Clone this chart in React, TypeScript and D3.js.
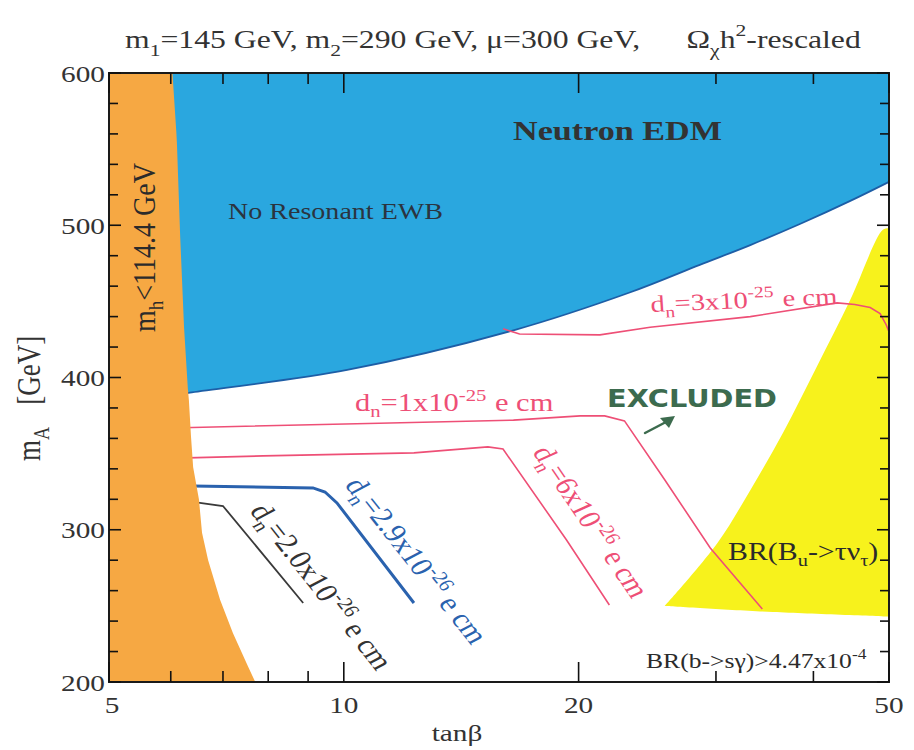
import React from 'react';
import * as d3 from 'd3';

// ---------- axis ticks ----------
const tanBetaMajor = [5, 10, 20, 50];
const tanBetaMinor = [6, 7, 8, 9, 30, 40];
const mAMajor = [200, 300, 400, 500, 600];
const mAMinor = [220, 240, 260, 280, 320, 340, 360, 380, 420, 440, 460, 480, 520, 540, 560, 580];

// ---------- regions: [tanBeta, mA] ----------
// m_h < 114.4 GeV boundary (orange region lies to the left)
const higgsBound: [number, number][] = [
  [6.03, 600], [6.10, 561], [6.11, 554], [6.17, 492], [6.24, 433], [6.31, 393], [6.33, 385],
  [6.37, 361], [6.41, 341], [6.52, 320], [6.58, 298], [6.70, 280], [6.94, 254], [7.21, 232],
  [7.54, 210], [7.70, 200],
];
// Neutron EDM / no resonant EWB boundary (blue region lies above)
const edmBound: [number, number][] = [
  [6.2, 389], [6.35, 390], [10.1, 405], [16.5, 431], [23.3, 456], [28.6, 474], [33.2, 487],
  [38.5, 501], [44.6, 516], [50, 528.5],
];
// BR(B_u -> tau nu) excluded region
const btaunuLeft: [number, number][] = [
  [50, 498], [49.1, 497], [44.6, 451], [40.4, 407], [36.6, 364], [33.2, 326], [30.1, 291], [25.8, 250],
];
const btaunuBottom: [number, number][] = [[25.8, 250], [35.5, 246], [50, 243]];

// ---------- d_n contours ----------
const dn3e25: [number, number][] = [
  [16.0, 432], [16.8, 428.6], [21.3, 428], [24.7, 433], [33.2, 440], [42.9, 449], [45.2, 448],
  [47.3, 446], [48.7, 442], [49.6, 434.5], [50, 430],
];
const dn1e25: [number, number][] = [
  [6.2, 367], [11.1, 370], [16.5, 372], [20.1, 374.8], [21.6, 374.8], [22.9, 371.5], [25.8, 332.7],
  [29.5, 288], [34.4, 248],
];
const dn6e26: [number, number][] = [
  [6.3, 347.2], [7.88, 348.5], [12.3, 350.5], [15.3, 354.4], [16.0, 353], [19.3, 293.3], [21.9, 250.6],
];
const dn29e26: [number, number][] = [
  [6.4, 328.8], [9.13, 327.5], [9.46, 324.8], [9.80, 317.6], [12.3, 251.9],
];
const dn20e26: [number, number][] = [
  [6.4, 318.3], [7.0, 315.6], [8.87, 251.9],
];

// ---------- layout ----------
const W = 914;
const H = 750;
const L = 109, R = 889, T = 73, B = 682;
const SX = 1.22; // horizontal stretch of the reference's lettering

const x = d3.scaleLog().domain([5, 50]).range([L, R]);
const y = d3.scaleLinear().domain([200, 600]).range([B, T]);

const lin = d3.line<[number, number]>().x(d => x(d[0])).y(d => y(d[1]));
const smooth = d3.line<[number, number]>().x(d => x(d[0])).y(d => y(d[1])).curve(d3.curveCatmullRom.alpha(0.5));

const serif = '"Liberation Serif", "Times New Roman", Times, serif';

const COL_BLUE = '#2aa7df';
const COL_ORANGE = '#f6a843';
const COL_YELLOW = '#f7f21c';
const COL_PINK = '#ee4f76';
const COL_DBLUE = '#2a62ae';
const COL_TEXT = '#2b2b2b';

function ST({ x: tx, y: ty, rot = 0, sx = SX, children, ...rest }: any) {
  return (
    <text transform={`translate(${tx},${ty}) scale(${sx},1) rotate(${rot})`} fontFamily={serif} {...rest}>
      {children}
    </text>
  );
}

function Dn({ coef, exp, sub = 6, sup = 10 }: { coef: string; exp: string; sub?: number; sup?: number }) {
  return (
    <>
      <tspan>d</tspan>
      <tspan dy={sub} fontSize="0.68em">n</tspan>
      <tspan dy={-sub}>{`=${coef}x10`}</tspan>
      <tspan dy={-sup} fontSize="0.68em">{exp}</tspan>
      <tspan dy={sup} dx={7}>e cm</tspan>
    </>
  );
}

export default function App() {
  const blueTop = `M${x(5.6)},${y(600)}L${x(50)},${y(600)}`;
  const blueEdge = smooth([...edmBound].reverse()) as string;
  const bluePath = blueTop + blueEdge.replace(/^M/, 'L') + 'Z';
  const edgeLine = smooth(edmBound) as string;

  const orangePath = `M${x(5)},${y(600)}` + (lin(higgsBound) as string).replace(/^M/, 'L') + `L${x(5)},${y(200)}Z`;

  const yellowPath =
    (smooth(btaunuLeft) as string) + (smooth(btaunuBottom) as string).replace(/^M/, 'L') + 'Z';

  const tickW = 1.6;

  return (
    <svg width={W} height={H} style={{ position: 'absolute', left: 0, top: 0, background: '#fff' }}>
      <rect x={0} y={0} width={W} height={H} fill="#fff" />
      {/* regions */}
      <path d={bluePath} fill={COL_BLUE} />
      <path d={edgeLine} fill="none" stroke="#1d5ea6" strokeWidth={1.8} />
      <path d={yellowPath} fill={COL_YELLOW} />

      {/* contours */}
      <path d={lin(dn3e25) as string} fill="none" stroke={COL_PINK} strokeWidth={1.6} />
      <path d={lin(dn1e25) as string} fill="none" stroke={COL_PINK} strokeWidth={1.6} />
      <path d={lin(dn6e26) as string} fill="none" stroke={COL_PINK} strokeWidth={1.6} />
      <path d={lin(dn29e26) as string} fill="none" stroke={COL_DBLUE} strokeWidth={3} />
      <path d={lin(dn20e26) as string} fill="none" stroke="#3a3a3a" strokeWidth={1.8} />

      <path d={orangePath} fill={COL_ORANGE} />

      {/* region labels */}
      <ST x={513} y={140} fontSize={28} fontWeight="bold" fill="#333">Neutron EDM</ST>
      <ST x={228} y={219} fontSize={23} fill="#2b3440">No Resonant EWB</ST>
      <ST x={155} y={332} rot={-90} fontSize={28} sx={1.12} fill={COL_TEXT}>
        <tspan>m</tspan>
        <tspan dy={7} fontSize="0.68em">h</tspan>
        <tspan dy={-7}>{'<114.4 GeV'}</tspan>
      </ST>

      {/* contour labels */}
      <ST x={651} y={312} rot={-3} fontSize={23.5} fill={COL_PINK}>
        <Dn coef="3" exp="-25" />
      </ST>
      <ST x={355} y={411} fontSize={25} fill={COL_PINK}>
        <Dn coef="1" exp="-25" />
      </ST>
      <ST x={532} y={452} rot={61} fontSize={26} fill={COL_PINK}>
        <Dn coef="6" exp="-26" />
      </ST>
      <ST x={344} y={485} rot={57} fontSize={26.5} fill={COL_DBLUE}>
        <Dn coef="2.9" exp="-26" />
      </ST>
      <ST x={249} y={511} rot={57} fontSize={26.5} fill="#333">
        <Dn coef="2.0" exp="-26" />
      </ST>

      <ST x={728} y={560} fontSize={24.5} fill={COL_TEXT}>
        <tspan>BR(B</tspan>
        <tspan dy={6} fontSize="0.68em">u</tspan>
        <tspan dy={-6}>{'->τν'}</tspan>
        <tspan dy={6} fontSize="0.68em">τ</tspan>
        <tspan dy={-6}>)</tspan>
      </ST>
      <ST x={646} y={668} fontSize={21} fill={COL_TEXT}>
        <tspan>{'BR(b->sγ)>4.47x10'}</tspan>
        <tspan dy={-9} fontSize="0.68em">-4</tspan>
      </ST>

      {/* handwritten annotation */}
      <text x={607} y={407} fontFamily='"DejaVu Sans", sans-serif' fontWeight="bold" fontSize={24}
        fill="#3c6b4e" textLength={170} lengthAdjust="spacingAndGlyphs">EXCLUDED</text>
      <line x1={645} y1={433} x2={666} y2={422} stroke="#3c6b4e" strokeWidth={2.5} strokeLinecap="round" />
      <path d="M660,418 L675,416 L669,428 Z" fill="#3c6b4e" />

      {/* frame */}
      <rect x={L} y={T} width={R - L} height={B - T} fill="none" stroke="#1a1a1a" strokeWidth={2} />

      {/* x ticks (bottom & top, inward) */}
      {tanBetaMajor.map(v => (
        <g key={'xM' + v}>
          <line x1={x(v)} x2={x(v)} y1={B} y2={B - 20} stroke="#111" strokeWidth={tickW} />
          <line x1={x(v)} x2={x(v)} y1={T} y2={T + 20} stroke="#111" strokeWidth={tickW} />
        </g>
      ))}
      {tanBetaMinor.map(v => (
        <g key={'xm' + v}>
          <line x1={x(v)} x2={x(v)} y1={B} y2={B - 11} stroke="#111" strokeWidth={tickW} />
          <line x1={x(v)} x2={x(v)} y1={T} y2={T + 11} stroke="#111" strokeWidth={tickW} />
        </g>
      ))}
      {/* y ticks (left & right, inward) */}
      {mAMajor.map(v => (
        <g key={'yM' + v}>
          <line x1={L} x2={L + 12} y1={y(v)} y2={y(v)} stroke="#111" strokeWidth={tickW} />
          <line x1={R} x2={R - 12} y1={y(v)} y2={y(v)} stroke="#111" strokeWidth={tickW} />
        </g>
      ))}
      {mAMinor.map(v => (
        <g key={'ym' + v}>
          <line x1={L} x2={L + 9} y1={y(v)} y2={y(v)} stroke="#111" strokeWidth={tickW} />
          <line x1={R} x2={R - 9} y1={y(v)} y2={y(v)} stroke="#111" strokeWidth={tickW} />
        </g>
      ))}

      {/* tick labels */}
      {mAMajor.map(v => (
        <ST key={'yl' + v} x={105} y={y(v) + 8.5} fontSize={24} textAnchor="end" fill="#333">{String(v)}</ST>
      ))}
      {tanBetaMajor.map(v => (
        <ST key={'xl' + v} x={x(v) + (v === 5 ? 3 : 0)} y={713} fontSize={24} textAnchor="middle" fill="#333">{String(v)}</ST>
      ))}

      {/* axis titles */}
      <ST x={457} y={741} fontSize={24} textAnchor="middle" fill="#333">tanβ</ST>
      <ST x={40} y={461} rot={-90} fontSize={27} fill="#333">
        <tspan>m</tspan>
        <tspan dy={7} fontSize="0.68em">A</tspan>
        <tspan dy={-7} dx={22}>[GeV]</tspan>
      </ST>

      {/* title */}
      <ST x={125} y={48} fontSize={26} fill="#333">
        <tspan>m</tspan>
        <tspan dy={8} fontSize="0.68em">1</tspan>
        <tspan dy={-8}>=145 GeV, m</tspan>
        <tspan dy={8} fontSize="0.68em">2</tspan>
        <tspan dy={-8}>=290 GeV, μ=300 GeV,</tspan>
        <tspan dx={38}>Ω</tspan>
        <tspan dy={8} fontSize="0.68em">χ</tspan>
        <tspan dy={-8}>h</tspan>
        <tspan dy={-12} fontSize="0.68em">2</tspan>
        <tspan dy={12}>-rescaled</tspan>
      </ST>
    </svg>
  );
}
